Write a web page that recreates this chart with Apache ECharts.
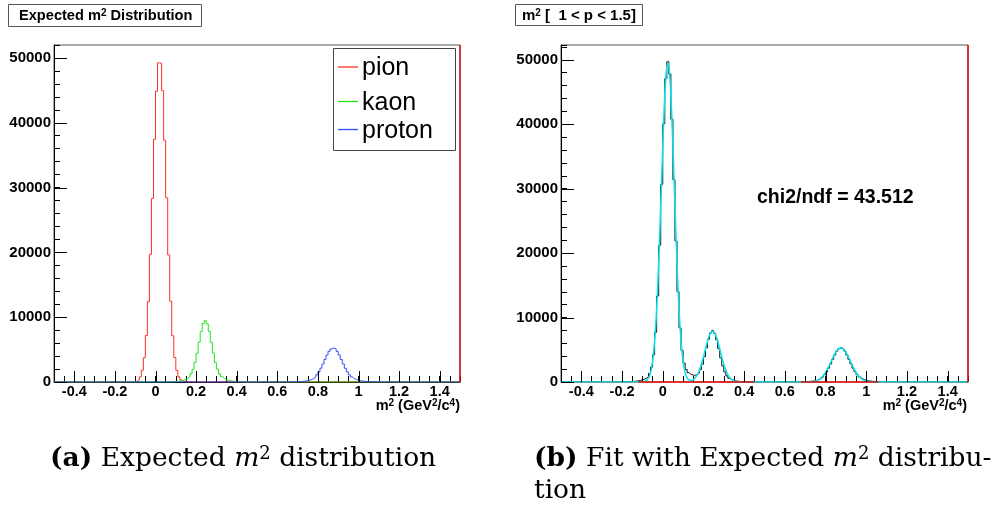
<!DOCTYPE html>
<html><head><meta charset="utf-8">
<script src="https://cdn.jsdelivr.net/npm/echarts@6/dist/echarts.min.js"></script>
<style>html,body{margin:0;padding:0;background:#fff}#c{width:995px;height:508px}</style>
</head><body><div id="c"></div>
<script>
// ---------- data ----------
const BIN = 0.01;
const X_MIN = -0.5, X_MAX = 1.5;
const xTickLabels = [-0.4, -0.2, 0, 0.2, 0.4, 0.6, 0.8, 1, 1.2, 1.4];
const yTickLabels = [0, 10000, 20000, 30000, 40000, 50000];
const Y_MAX_A = 52000, Y_MAX_B = 52300;

// (a) expected m^2 histograms, 0.01 bins, first bin centre given
const pionStart = -0.125;
const pionCounts = [4,12,40,118,320,785,1810,3740,7180,12390,19700,28330,37450,44860,49250,49180,44950,37310,28420,19610,12460,7140,3780,1790,795,312,118,36,13,3];
const kaonStart = 0.065;
const kaonCounts = [16,28,41,66,94,142,198,285,390,570,820,1275,1955,3040,4440,6160,7770,9030,9460,8990,7800,6120,4470,3010,1980,1255,835,560,398,278,204,137,97,63,43,26,17];
const protonStart = 0.655;
const protonCounts = [14,19,27,35,49,62,85,110,150,196,276,380,550,780,1125,1560,2135,2775,3490,4155,4740,5110,5250,5120,4725,4170,3480,2790,2120,1575,1115,790,545,385,270,200,146,112,83,64,47,36,26,19,14];

// (b) data histogram (1 < p < 1.5)
const dataBStart1 = -0.215;
const dataBCounts1 = [5,8,13,20,30,45,67,95,132,181,244,324,430,581,834,1320,2307,4239,7727,13345,21220,30690,40080,47090,49700,47790,40773,31379,21896,14008,8395,4893,2939,1936,1442,1191,1067,1037,1124,1391,1914,2760,3929,5300,6633,7609,7957,7569,6551,5170,3743,2498,1576,960,583,365,239,162,112,77,53,35,23,15,9,5];
const dataBStart2 = 0.655;
const dataBCounts2 = [13,20,26,37,48,64,84,113,149,200,275,386,552,792,1130,1585,2150,2810,3520,4200,4780,5165,5300,5160,4790,4205,3515,2815,2145,1580,1135,790,555,386,276,198,150,112,85,63,49,36,26,19,14];

// (b) fit curve, sampled at bin centres
const fitBStart1 = -0.155;
const fitBVals1 = [0,0,0,1,4,13,44,135,375,950,2178,4533,8550,14633,22705,31965,40800,47235,49600,47235,40800,31965,22705,14633,8551,4536,2187,973,429,254,290,488,860,1440,2257,3303,4511,5749,6835,7583,7850,7583,6835,5749,4511,3303,2257,1439,856,475,246,119,54,23,9,3];
const fitBStart2 = 0.695;
const fitBVals2 = [3,7,16,33,63,116,204,342,551,848,1245,1749,2346,3010,3690,4323,4842,5181,5300,5181,4842,4323,3690,3010,2346,1749,1245,848,551,342,204,116,63,33,16,7,3];

const redZeroRanges = [[-0.12, 0.45], [0.68, 1.06]];
const chi2Text = 'chi2/ndf = 43.512';
const legendNames = ['pion', 'kaon', 'proton'];

// ---------- helpers ----------
const COL = { pion: '#ff3020', kaon: '#1ee61e', proton: '#2f50ff', data: '#111111', fit: '#00e4ec', red: '#e01010' };
function binned(parts) {
  const n = Math.round((X_MAX - X_MIN) / BIN);
  const arr = new Array(n).fill(0);
  parts.forEach(([s, c]) => {
    const i0 = Math.round((s - X_MIN) / BIN - 0.5);
    c.forEach((v, k) => { arr[i0 + k] += v; });
  });
  const out = [[X_MIN, 0]];
  arr.forEach((v, i) => out.push([+(X_MIN + (i + 0.5) * BIN).toFixed(3), v]));
  out.push([X_MAX, 0]);
  return out;
}
const fmtX = v => { const k = v / 0.2; return Math.abs(k - Math.round(k)) < 1e-6 ? String(+(+v).toFixed(1)) : ''; };
const fmtY = v => (Math.abs(v % 10000) < 1e-6 ? String(v) : '');
const FONT = 'Liberation Sans';

function xAxisCfg(gi) {
  return {
    gridIndex: gi, type: 'value', min: X_MIN, max: X_MAX, interval: 0.05,
    axisLine: { show: true, onZero: false, lineStyle: { color: gi === 1 ? '#f08070' : '#000', width: 1 } },
    axisTick: { show: true, inside: true, length: 6, lineStyle: { color: '#000' } },
    axisLabel: { formatter: fmtX, color: '#000', fontWeight: 'bold', fontSize: 14.5, fontFamily: FONT, margin: 2 },
    splitLine: { show: false }
  };
}
function yAxisCfg(gi, ymax) {
  return {
    gridIndex: gi, type: 'value', min: 0, max: ymax, interval: 2000,
    axisLine: { show: true, onZero: false, lineStyle: { color: '#000', width: 1 } },
    axisTick: { show: true, inside: true, length: 6, lineStyle: { color: '#000' } },
    axisLabel: { formatter: fmtY, color: '#000', fontWeight: 'bold', fontSize: 15, fontFamily: FONT, margin: 3 },
    splitLine: { show: false }
  };
}
function majorX(gi) {
  return { type: 'custom', xAxisIndex: gi, yAxisIndex: gi, silent: true, clip: false, z: 5,
    data: xTickLabels.map(v => [v, 0]),
    renderItem: (p, api) => { const pt = api.coord([api.value(0), 0]); const x = Math.round(pt[0]) + 0.5;
      return { type: 'line', shape: { x1: x, y1: pt[1], x2: x, y2: pt[1] - 11 }, style: { stroke: '#000', lineWidth: 1 } }; } };
}
function majorY(gi) {
  return { type: 'custom', xAxisIndex: gi, yAxisIndex: gi, silent: true, clip: false, z: 5,
    data: yTickLabels.map(v => [X_MIN, v]),
    renderItem: (p, api) => { const pt = api.coord([X_MIN, api.value(1)]); const y = Math.round(pt[1]) + 0.5;
      return { type: 'line', shape: { x1: pt[0], y1: y, x2: pt[0] + 13, y2: y }, style: { stroke: '#000', lineWidth: 1 } }; } };
}
function histSeries(gi, data, color, z) {
  return { type: 'line', xAxisIndex: gi, yAxisIndex: gi, data, step: 'middle', symbol: 'none', silent: true,
    lineStyle: { color, width: 1 }, z: z || 2 };
}
function edgeSeries(gi, ymax) {
  return { type: 'line', xAxisIndex: gi, yAxisIndex: gi, data: [[X_MAX, 0], [X_MAX, ymax]], symbol: 'none', silent: true,
    clip: false, lineStyle: { color: COL.red, width: 1.5 }, z: 6 };
}
function fitCurve() {
  const pts = binned([[fitBStart1, fitBVals1], [fitBStart2, fitBVals2]]);
  return pts.slice(1, -1);
}

const series = [
  histSeries(0, binned([[pionStart, pionCounts]]), COL.pion),
  histSeries(0, binned([[kaonStart, kaonCounts]]), COL.kaon),
  histSeries(0, binned([[protonStart, protonCounts]]), COL.proton),
  histSeries(1, binned([[dataBStart1, dataBCounts1], [dataBStart2, dataBCounts2]]), COL.data),
  { type: 'line', xAxisIndex: 1, yAxisIndex: 1, data: fitCurve(),
    smooth: 0.4, symbol: 'none', silent: true, lineStyle: { color: COL.fit, width: 1.5 }, z: 3 },
  ...redZeroRanges.map(r => ({ type: 'line', xAxisIndex: 1, yAxisIndex: 1, data: [[r[0], 0], [r[1], 0]], symbol: 'none', silent: true,
    clip: false, lineStyle: { color: COL.red, width: 1.5 }, z: 4 })),
  edgeSeries(0, Y_MAX_A), edgeSeries(1, Y_MAX_B),
  majorX(0), majorY(0), majorX(1), majorY(1)
];

const serif = 'DejaVu Serif';
const CS = 26.5;
const capRich = {
  bd: { fontSize: CS, fontWeight: 'bold', fontFamily: serif, color: '#000' },
  rm: { fontSize: CS, fontFamily: serif, color: '#000' },
  it: { fontSize: CS, fontStyle: 'italic', fontFamily: serif, color: '#000' },
  sup: { fontSize: 18, fontFamily: serif, color: '#000', verticalAlign: 'top', lineHeight: 18 }
};
const sansRich = (size, sup) => ({
  b: { fontSize: size, fontWeight: 'bold', fontFamily: FONT, color: '#000' },
  s: { fontSize: sup, fontWeight: 'bold', fontFamily: FONT, color: '#000', verticalAlign: 'top', lineHeight: sup }
});

const graphic = [
  { type: 'rect', shape: { x: 8.5, y: 4.5, width: 193, height: 22 }, style: { fill: '#fff', stroke: '#555', lineWidth: 1 } },
  { type: 'text', x: 19, y: 16, style: { text: '{b|Expected m}{s|2}{b| Distribution}', rich: sansRich(14.6, 10), verticalAlign: 'middle' } },
  { type: 'rect', shape: { x: 515.5, y: 4.5, width: 127, height: 21 }, style: { fill: '#fff', stroke: '#555', lineWidth: 1 } },
  { type: 'text', x: 522, y: 15.5, style: { text: '{b|m}{s|2}{b| [  1 < p < 1.5]}', rich: sansRich(15, 10), verticalAlign: 'middle' } },
  // legend
  { type: 'rect', z: 10, shape: { x: 333.5, y: 48.5, width: 122, height: 102 }, style: { fill: '#fff', stroke: '#444', lineWidth: 1 } },
  ...legendNames.map((n, i) => {
    const ys = [67, 101.5, 129.5];
    return [
      { type: 'line', z: 11, shape: { x1: 338, y1: ys[i], x2: 358, y2: ys[i] }, style: { stroke: COL[n], lineWidth: 1.3 } },
      { type: 'text', z: 11, x: 362, y: ys[i] + 1.5, style: { text: n, fontSize: 25, fontFamily: FONT, fill: '#000', verticalAlign: 'middle' } }
    ];
  }).flat(),
  // axis titles
  { type: 'text', x: 460, y: 406, style: { text: '{b|m}{s|2}{b| (GeV}{s|2}{b|/c}{s|4}{b|)}', rich: sansRich(14.5, 10), align: 'right', verticalAlign: 'middle' } },
  { type: 'text', x: 967, y: 406, style: { text: '{b|m}{s|2}{b| (GeV}{s|2}{b|/c}{s|4}{b|)}', rich: sansRich(14.5, 10), align: 'right', verticalAlign: 'middle' } },
  { type: 'text', x: 757, y: 198, style: { text: chi2Text, verticalAlign: 'middle', fontSize: 19.5, fontWeight: 'bold', fontFamily: FONT, fill: '#000' } },
  // captions
  { type: 'text', x: 50, y: 459, style: { text: '{bd|(a)}{rm| Expected }{it|m}{sup|2}{rm| distribution}', rich: capRich, verticalAlign: 'middle' } },
  { type: 'text', x: 534, y: 459, style: { text: '{bd|(b)}{rm| Fit with Expected }{it|m}{sup|2}{rm| distribu-}', rich: capRich, verticalAlign: 'middle' } },
  { type: 'text', x: 534, y: 491, style: { text: '{rm|tion}', rich: capRich, verticalAlign: 'middle' } }
];

const chart = echarts.init(document.getElementById('c'), null, { renderer: 'canvas' });
chart.setOption({
  animation: false,
  backgroundColor: '#fff',
  grid: [
    { left: 54, top: 45, width: 406, height: 337, show: true, borderColor: '#555', borderWidth: 1, backgroundColor: 'transparent', outerBoundsMode: 'none' },
    { left: 561, top: 45, width: 407, height: 337, show: true, borderColor: '#555', borderWidth: 1, backgroundColor: 'transparent', outerBoundsMode: 'none' }
  ],
  xAxis: [xAxisCfg(0), xAxisCfg(1)],
  yAxis: [yAxisCfg(0, Y_MAX_A), yAxisCfg(1, Y_MAX_B)],
  series,
  graphic
});
</script></body></html>
